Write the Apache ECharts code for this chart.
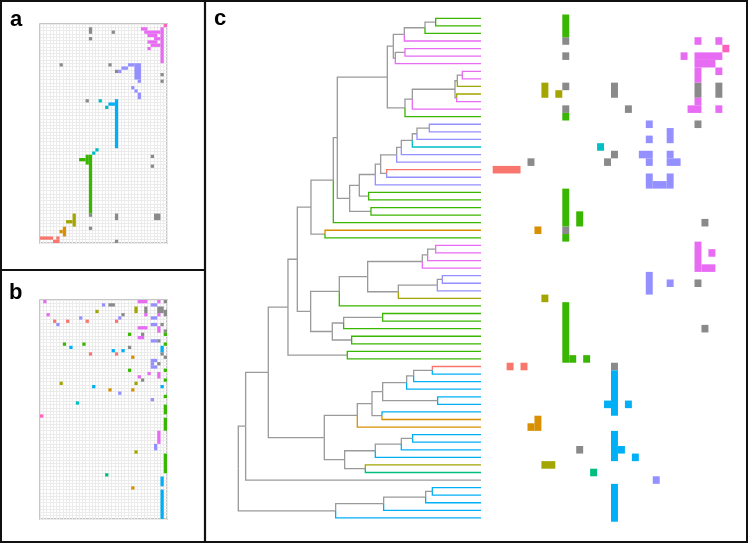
<!DOCTYPE html>
<html><head><meta charset="utf-8">
<script src="https://cdn.jsdelivr.net/npm/echarts@6/dist/echarts.min.js"></script>
<style>html,body{margin:0;padding:0;background:#fff}#chart{width:748px;height:543px}</style>
</head><body><div id="chart"></div>
<script>
// cluster ids: 0 unassigned(gray),1 salmon,2 orange,3 olive,4 green,5 teal,6 cyan,7 blue,8 purple,9 pink,10 magenta
const clusterIds = [0,1,2,3,4,5,6,7,8,9,10];

// panel a cells: [cluster, col0, row0, col1, row1]
const aCells = [
[10,38,0,38,0],
[9,31,1,32,1],[9,32,2,36,2],[9,33,3,35,3],[9,35,4,36,4],[9,33,5,35,5],[9,34,6,36,6],[9,33,7,33,7],[9,37,1,37,11],
[0,15,1,15,2],[0,15,4,15,4],[0,22,2,22,2],[0,6,12,6,12],[0,21,12,21,12],[0,23,14,23,14],[0,37,15,37,15],[0,37,17,37,17],
[8,27,12,28,12],[8,25,13,26,13],[8,24,14,24,14],[8,29,12,30,16],[8,30,17,30,17],[8,28,19,28,19],[8,29,20,29,20],[8,30,21,30,22],
[0,14,23,14,23],[6,18,23,18,23],[7,21,24,22,24],[6,20,25,20,25],[7,23,23,23,37],
[6,17,38,17,38],[6,16,39,16,39],
[4,14,40,14,42],[4,12,41,13,41],[4,15,40,15,57],
[0,34,40,34,40],[0,34,43,34,43],
[0,15,58,15,58],[0,23,58,23,59],[0,35,58,36,59],[0,15,62,15,62],[0,23,66,23,66],
[3,10,58,10,61],[3,8,60,9,60],
[2,7,62,7,64],[2,6,63,6,63],
[1,0,65,3,65],[1,5,65,5,65],[1,4,66,5,66]
];

// panel b cells
const bCells = [
[9,1,0,1,0],[9,30,0,32,0],[9,36,0,36,0],[0,38,0,38,0],
[8,19,1,19,1],[0,21,1,22,1],[8,34,1,35,1],
[3,29,2,29,3],[0,32,2,32,3],[0,36,2,37,3],[0,38,3,38,4],[3,17,3,17,3],
[9,2,4,2,4],[0,25,4,25,4],[9,32,4,32,4],[9,36,4,36,4],
[8,12,5,12,5],[8,24,5,24,5],[8,34,5,35,5],
[1,4,6,4,6],[1,8,6,8,6],[1,14,6,14,6],[1,23,6,23,6],
[8,5,7,5,7],[8,34,7,35,7],[0,37,7,37,7],
[9,30,8,32,8],[9,36,8,36,9],[0,38,9,38,9],
[4,27,10,27,10],[0,31,10,31,10],[4,38,10,38,10],
[9,30,11,31,11],
[8,34,12,35,12],[0,36,12,36,12],
[4,7,13,7,13],[4,13,13,13,13],[4,38,13,38,13],
[7,9,14,9,14],[0,27,14,27,14],[7,37,14,37,15],
[7,22,15,22,15],[7,25,15,25,15],
[1,15,16,15,16],[1,23,16,23,16],[0,37,16,37,16],
[2,28,17,28,17],[0,38,17,38,17],
[8,34,18,35,18],[8,34,19,34,19],[0,36,19,36,19],[8,34,20,35,20],
[4,27,21,27,21],[4,38,21,38,21],
[9,33,22,33,22],[9,36,22,36,23],[9,30,23,30,23],
[0,31,24,31,24],[4,38,24,38,24],
[3,6,25,6,25],[3,29,25,29,25],
[7,16,26,16,26],[7,37,26,37,26],
[2,21,27,21,27],[2,28,27,28,27],
[8,24,28,24,28],[4,38,29,38,29],[8,34,30,34,30],[6,11,31,11,31],
[4,38,32,38,34],[10,0,35,0,35],[4,38,36,38,39],
[9,36,40,36,43],[8,35,44,35,45],[3,29,46,29,46],[4,38,47,38,52],
[5,20,53,20,53],[7,37,54,37,56],[2,28,57,28,57],[7,37,58,37,66]
];

// panel c matrix cells
const cCells = [
[4,10,0,10,2],[0,10,3,10,3],[0,10,5,10,5],[3,7,9,7,10],[3,9,10,9,10],[0,10,9,10,9],[0,17,9,17,10],[0,19,12,19,12],[0,10,12,10,12],[4,10,13,10,13],
[9,29,3,29,3],[9,32,3,32,3],[10,33,4,33,4],[9,27,5,27,5],[9,29,5,32,5],[9,29,6,31,6],[9,32,7,32,7],[9,29,7,29,8],[0,29,9,29,10],[0,32,9,32,10],[9,29,11,29,11],[9,28,12,29,12],[9,32,12,32,12],
[0,29,14,29,14],[8,22,14,22,14],[8,22,16,22,16],[8,25,15,25,16],[6,15,17,15,17],[0,17,18,17,18],[0,16,19,16,19],[0,5,19,5,19],[8,21,18,22,18],[8,22,19,22,19],[8,25,18,25,18],[8,25,19,26,19],[1,0,20,3,20],[8,22,21,22,22],[8,25,21,25,22],[8,23,22,24,22],
[4,10,23,10,27],[4,12,26,12,27],[0,30,27,30,27],[0,10,28,10,28],[2,6,28,6,28],[4,10,29,10,29],
[9,29,30,29,33],[9,31,31,31,31],[9,30,33,31,33],
[8,22,34,22,36],[8,25,35,25,35],[0,29,35,29,35],[3,7,37,7,37],[4,10,38,10,45],[4,11,45,11,45],[4,13,45,13,45],[0,30,41,30,41],
[1,2,46,2,46],[1,4,46,4,46],[0,17,46,17,46],[7,17,47,17,52],[7,16,51,16,51],[7,19,51,19,51],[2,6,53,6,54],[2,5,54,5,54],[7,17,55,17,58],[7,18,57,18,57],[7,20,58,20,58],[0,12,57,12,57],[3,7,59,8,59],[5,14,60,14,60],[8,23,61,23,61],[7,17,62,17,66]
];

// dendrogram leaves (top to bottom) cluster of each leaf
const leafCluster = [4,4,4,9,9,9,9,9,9,3,3,9,9,4,8,8,8,6,8,8,1,8,8,4,4,4,4,4,2,4,9,9,9,9,8,8,8,3,4,4,4,4,4,4,4,4,1,7,7,7,7,7,7,2,2,7,7,7,7,3,5,0,7,7,7,7,7];

// merges: [childA, childB, height]; node id = 67 + index
const merges = [
[0,1,1.36],[67,2,1.68],[68,3,2.30],[4,5,2.28],[70,6,2.57],[69,71,2.63],
[7,8,0.56],[73,9,0.71],[10,11,0.73],[74,75,0.78],[76,12,2.06],[77,13,2.28],[72,78,2.81],
[14,15,1.55],[80,16,1.92],[81,17,2.06],[82,18,2.39],[83,19,2.53],[20,21,2.83],[84,85,3.01],[86,22,3.17],
[23,24,3.37],[87,88,3.65],[25,26,3.30],[89,90,3.94],[79,91,4.31],[92,27,4.43],[28,29,4.68],[93,94,5.10],
[30,31,1.36],[96,32,1.60],[97,33,1.76],[34,35,1.16],[99,36,1.31],[100,37,2.48],[98,101,3.40],[102,38,4.25],
[39,40,2.95],[104,41,4.12],[42,43,3.88],[105,106,4.46],[103,107,5.11],[95,108,5.51],[44,45,4.01],[109,110,5.79],
[46,47,1.46],[112,48,2.02],[113,49,2.23],[50,51,1.30],[114,115,2.95],[52,53,2.97],[116,117,3.27],[118,54,3.71],
[55,56,2.05],[120,57,2.39],[121,58,3.17],[59,60,3.47],[122,123,4.09],[119,124,4.70],
[111,125,6.38],[126,61,7.06],[62,63,1.46],[128,64,1.66],[129,65,2.92],[130,66,4.36],[127,131,7.28]
];

const colors = ['#8a8a8a','#F8766D','#D89000','#A3A500','#39B600','#00BF7D','#00BFC4','#00B0F6','#9590FF','#E76BF3','#FF62BC'];
const treeGray = '#9a9a9a';

function rectRender(params, api){
  const p0 = api.coord([api.value(0), api.value(1)]);
  const p1 = api.coord([api.value(2)+1, api.value(3)+1]);
  return {type:'rect', shape:{x:Math.min(p0[0],p1[0]), y:Math.min(p0[1],p1[1]), width:Math.abs(p1[0]-p0[0]), height:Math.abs(p1[1]-p0[1])}, style:{fill:api.visual('color')}};
}
const series = [];
function addCells(cells, gi){
  clusterIds.forEach(k=>{
    const d = cells.filter(c=>c[0]===k).map(c=>[c[1],c[2],c[3],c[4]]);
    if(!d.length) return;
    series.push({type:'custom', xAxisIndex:gi, yAxisIndex:gi, renderItem:rectRender, itemStyle:{color:colors[k]}, encode:{x:[0,2], y:[1,3]}, data:d, clip:false, silent:true});
  });
}
addCells(aCells,0); addCells(bCells,1); addCells(cCells,3);

// dendrogram layout: edges to leaves take the leaf colour, inner edges are gray
const nLeaf = leafCluster.length;
const ny = [], nh = [];
for(let i=0;i<nLeaf;i++){ ny.push(i); nh.push(0); }
const edges = [];
merges.forEach(m=>{
  const [a,b,h] = m;
  const y = (ny[a]+ny[b])/2;
  [a,b].forEach(c=>{
    const isLeaf = c < nLeaf;
    const col = (isLeaf && leafCluster[c]>0) ? colors[leafCluster[c]] : treeGray;
    edges.push({value:[h, y, nh[c], ny[c]], itemStyle:{color:col}, g: (isLeaf && leafCluster[c]>0)?1:0});
  });
  ny.push(y); nh.push(h);
});
edges.sort((p,q)=>p.g-q.g);
series.push({type:'custom', xAxisIndex:2, yAxisIndex:2, clip:false, silent:true,
  renderItem:function(params, api){
    const p1 = api.coord([api.value(0), api.value(1)]);
    const p2 = api.coord([api.value(0), api.value(3)]);
    const p3 = api.coord([api.value(2), api.value(3)]);
    return {type:'polyline', shape:{points:[p1,p2,p3]}, style:{stroke:api.visual('color'), fill:null, lineWidth:1.3}};
  },
  encode:{x:[0,2], y:[1,3]},
  data: edges.map(e=>({value:e.value, itemStyle:e.itemStyle}))
});

const gridAxis = (gi, max) => ({gridIndex:gi, type:'value', min:0, max:max, interval:1,
  axisLine:{show:false}, axisTick:{show:false}, axisLabel:{show:false},
  splitLine:{show:true, lineStyle:{color:'#ebebeb', width:1}}});

const chart = echarts.init(document.getElementById('chart'), null, {renderer:'canvas'});
chart.setOption({
  animation:false,
  backgroundColor:'#fff',
  grid:[
    {left:40, top:24, width:127, height:219, show:true, borderColor:'#b4b4b4', borderWidth:1.5, backgroundColor:'#fff'},
    {left:40, top:300, width:127, height:219, show:true, borderColor:'#b4b4b4', borderWidth:1.5, backgroundColor:'#fff'},
    {left:238.3, top:14.5, width:242.7, height:507.2},
    {left:492.7, top:14.5, width:236.6, height:507.2}
  ],
  xAxis:[
    gridAxis(0,39), gridAxis(1,39),
    {gridIndex:2, type:'value', inverse:true, min:0, max:7.28, show:false},
    {gridIndex:3, type:'value', min:0, max:34, show:false}
  ],
  yAxis:[
    Object.assign(gridAxis(0,67),{inverse:true}), Object.assign(gridAxis(1,67),{inverse:true}),
    {gridIndex:2, type:'value', inverse:true, min:-0.5, max:66.5, show:false},
    {gridIndex:3, type:'value', inverse:true, min:0, max:67, show:false}
  ],
  graphic:[
    {type:'rect', z:100, shape:{x:1,y:1,width:746,height:541}, style:{fill:'none', stroke:'#111', lineWidth:2}},
    {type:'line', z:100, shape:{x1:205,y1:0,x2:205,y2:543}, style:{stroke:'#111', lineWidth:2.2}},
    {type:'line', z:100, shape:{x1:0,y1:270,x2:205,y2:270}, style:{stroke:'#111', lineWidth:2.2}},
    {type:'text', z:100, left:10, top:9, style:{text:'a', font:'bold 22px "Liberation Sans", Arial, sans-serif', fill:'#000'}},
    {type:'text', z:100, left:9, top:282, style:{text:'b', font:'bold 22px "Liberation Sans", Arial, sans-serif', fill:'#000'}},
    {type:'text', z:100, left:214, top:8, style:{text:'c', font:'bold 22px "Liberation Sans", Arial, sans-serif', fill:'#000'}}
  ],
  series:series
});
</script></body></html>
